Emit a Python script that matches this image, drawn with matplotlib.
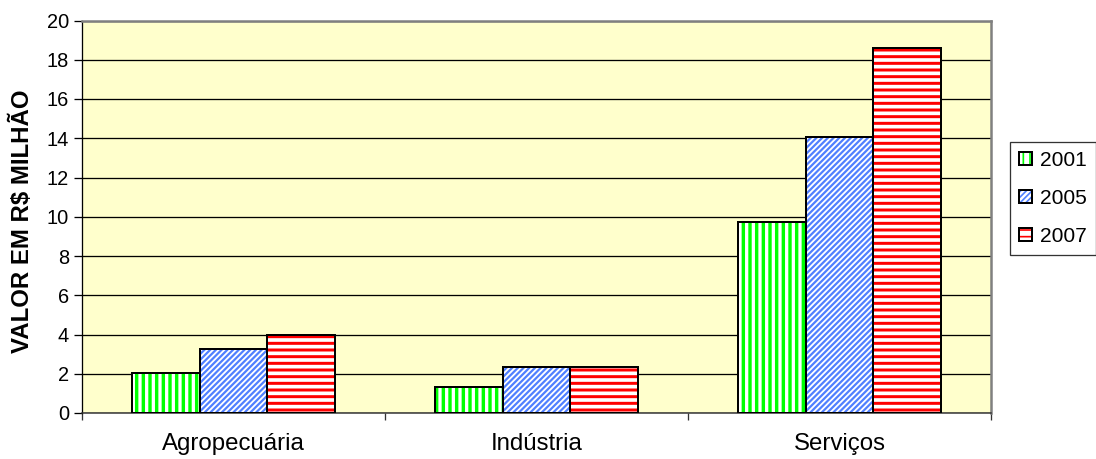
import matplotlib
matplotlib.use("Agg")
import matplotlib.pyplot as plt
import numpy as np
from matplotlib.patches import Patch
from matplotlib.legend_handler import HandlerTuple

# Data
categories = ['Agropecuária', 'Indústria', 'Serviços']
years = ['2001', '2005', '2007']
v2001 = [2.04, 1.30, 9.75]
v2005 = [3.25, 2.33, 14.07]
v2007 = [4.00, 2.33, 18.60]
yticks = list(range(0, 21, 2))

DPI = 120
W, H = 1096, 459


def pt(px):
    # pixels -> points at the output dpi
    return px * 72.0 / DPI


plt.rcParams['font.family'] = ['Liberation Sans', 'DejaVu Sans']

colors = ['#00FF00', '#4F7FFF', '#FF0000']
hatches = ['|||', '///////', '---']
hatch_lw = [pt(3.4), pt(2.2), pt(3.0)]

fig = plt.figure(figsize=(W / DPI, H / DPI), dpi=DPI)
ax = fig.add_axes([82 / W, (H - 413) / H, 909 / W, 392.5 / H])
ax.set_facecolor('#FFFFCC')

x = np.arange(len(categories))
width = 0.224
series = [v2001, v2005, v2007]
handles = []
for i, vals in enumerate(series):
    pos = x + (i - 1) * width
    with plt.rc_context({'hatch.linewidth': hatch_lw[i]}):
        bars = ax.bar(pos, vals, width, facecolor='white', edgecolor=colors[i],
                      hatch=hatches[i], linewidth=0, zorder=2)
        for b in bars:
            if hasattr(b, 'set_hatch_linewidth'):
                b.set_hatch_linewidth(hatch_lw[i])
        h1 = Patch(facecolor='white', edgecolor=colors[i], hatch=hatches[i], linewidth=0)
    ax.bar(pos, vals, width, fill=False, edgecolor='black', linewidth=pt(2), zorder=3)
    h2 = Patch(fill=False, edgecolor='black', linewidth=pt(2))
    handles.append((h1, h2))

ax.set_xlim(-0.5, 2.5)
ax.set_ylim(0, 20)
ax.set_yticks(yticks)
ax.yaxis.grid(True, color='black', linewidth=pt(1.3), zorder=1)
ax.set_axisbelow(True)

ax.set_xticks(x)
ax.set_xticklabels(categories, fontsize=pt(24))
ax.set_xticks([-0.5, 0.5, 1.5, 2.5], minor=True)
ax.tick_params(axis='x', which='major', length=0, pad=pt(20))
ax.tick_params(axis='x', which='minor', length=pt(7), width=pt(1.3),
               direction='out', color='#333333')
ax.tick_params(axis='y', length=pt(8), width=pt(1.3), direction='out',
               labelsize=pt(20), pad=pt(5))

for s in ['top', 'right']:
    ax.spines[s].set_color('#808080')
    ax.spines[s].set_linewidth(pt(2.5))
ax.spines['left'].set_color('black')
ax.spines['left'].set_linewidth(pt(1.3))
ax.spines['bottom'].set_color('#333333')
ax.spines['bottom'].set_linewidth(pt(1.5))

ax.set_ylabel('VALOR EM R$ MILHÃO', fontsize=pt(24), fontweight='bold', va='center')
ax.yaxis.set_label_coords((22 - 82) / 909, (413 - 221) / 392.5)

leg = fig.legend(handles, years, handler_map={tuple: HandlerTuple(ndivide=1)},
                 loc='upper left', bbox_to_anchor=(1010 / W, (H - 142) / H),
                 fontsize=pt(21), frameon=True, fancybox=False, edgecolor='black',
                 handlelength=0.62, handleheight=0.62, handletextpad=0.38,
                 borderpad=0.43, labelspacing=0.9, borderaxespad=0)
leg.get_frame().set_linewidth(pt(1.3))

fig.savefig('out.png', dpi=DPI, facecolor='white')
